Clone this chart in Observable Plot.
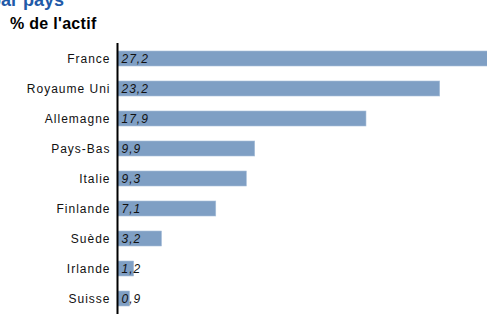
<!DOCTYPE html>
<html><head><meta charset="utf-8">
<script src="https://cdn.jsdelivr.net/npm/d3@7"></script>
<script src="https://cdn.jsdelivr.net/npm/@observablehq/plot@0.6"></script>
<style>
html,body{margin:0;padding:0;background:#fff;overflow:hidden;width:487px;height:336px;}
#head{position:relative;height:34px;font-family:"Liberation Sans",Arial,sans-serif;}
#title{position:absolute;left:-10px;top:-9px;color:#1f5aa8;font-weight:bold;font-size:18px;white-space:nowrap;line-height:18px;}
#sub{position:absolute;left:10px;top:15px;font-weight:bold;font-size:16px;letter-spacing:0.3px;color:#000;line-height:18px;}
</style></head>
<body>
<div id="head"><div id="title">par pays</div><div id="sub">% de l'actif</div></div>
<div id="chart"></div>
<script>
const countries = ["France","Royaume Uni","Allemagne","Pays-Bas","Italie","Finlande","Suède","Irlande","Suisse"];
const values = [27.2,23.2,17.9,9.9,9.3,7.1,3.2,1.2,0.9];
const labels = ["27,2","23,2","17,9","9,9","9,3","7,1","3,2","1,2","0,9"];
const data = countries.map((c,i)=>({country:c, value:values[i], label:labels[i]}));
const chart = Plot.plot({
  width:487, height:302,
  marginTop:9, marginBottom:22, marginLeft:117, marginRight:0,
  style:{fontFamily:"'Liberation Sans', Arial, sans-serif", fontSize:"12px", background:"#fff"},
  x:{domain:[0,26.6], axis:null},
  y:{domain:countries, paddingInner:0.5, paddingOuter:0.25, label:null, tickSize:0, tickPadding:7},
  marks:[
    Plot.barX(data,{y:"country", x:"value", fill:"#7f9fc4", stroke:"#a9c0da", strokeWidth:0.6, clip:true}),
    Plot.text(data,{y:"country", x:0, text:"label", dx:4, textAnchor:"start", fontStyle:"italic", fill:"#111", fontSize:12}),
    Plot.ruleX([0],{stroke:"#000", strokeWidth:2})
  ]
});
chart.querySelectorAll("g[aria-label='y-axis tick label'] text").forEach(t=>{t.style.letterSpacing="1px";t.setAttribute("fill","#111");});
chart.querySelectorAll("g[aria-label='text'] text").forEach(t=>t.style.letterSpacing="1px");
document.getElementById("chart").appendChild(chart);
</script>
</body></html>
